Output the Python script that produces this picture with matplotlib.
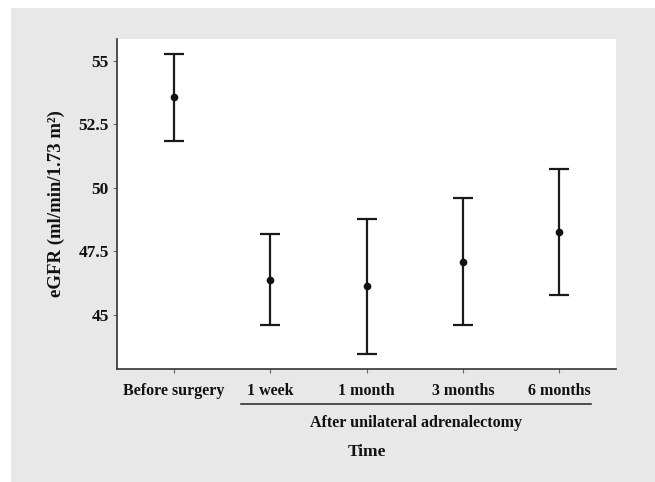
import matplotlib
matplotlib.use("Agg")
import matplotlib.pyplot as plt
from matplotlib.patches import Rectangle
from matplotlib.lines import Line2D

categories = ["Before surgery", "1 week", "1 month", "3 months", "6 months"]
means = [53.57, 46.37, 46.11, 47.09, 48.24]
upper = [55.28, 48.16, 48.75, 49.60, 50.74]
lower = [51.86, 44.57, 43.45, 44.58, 45.76]
yticks = [45, 47.5, 50, 52.5, 55]
ytick_labels = ["45", "47.5", "50", "52.5", "55"]

plt.rcParams['font.family'] = ['Liberation Serif', 'DejaVu Serif']
plt.rcParams['font.weight'] = 'bold'

W, H = 655, 482
fig = plt.figure(figsize=(W/100, H/100), dpi=100)
fig.patch.set_facecolor('white')
bg = Rectangle((11/W, 0), 1 - 11/W, 1 - 8/H, transform=fig.transFigure,
               facecolor='#e8e8e8', edgecolor='none', zorder=-10)
fig.patches.append(bg)

ax = fig.add_axes([117/W, (H-369)/H, (616-117)/W, (369-39)/H])
ax.set_zorder(1)
ax.set_facecolor('white')

x = list(range(len(categories)))
yerr = [[m - l for m, l in zip(means, lower)], [u - m for m, u in zip(means, upper)]]
ax.errorbar(x, means, yerr=yerr, fmt='o', color='#111111', ecolor='#1a1a1a',
            markersize=4.5, elinewidth=1.6, capsize=7, capthick=1.6)

ax.set_xlim(-0.59, 4.59)
ax.set_ylim(42.85, 55.87)
ax.set_yticks(yticks)
ax.set_yticklabels(ytick_labels)
ax.set_xticks(x)
ax.set_xticklabels(categories)
for s in ['top', 'right']:
    ax.spines[s].set_visible(False)
for s in ['left', 'bottom']:
    ax.spines[s].set_color('#333333')
    ax.spines[s].set_linewidth(1.2)
ax.tick_params(axis='both', length=3, width=0.8, color='#666666', labelcolor='#111111')
ax.tick_params(axis='x', pad=7, labelsize=11.5)
ax.tick_params(axis='y', pad=3, labelsize=12.5)
for lbl in ax.get_xticklabels() + ax.get_yticklabels():
    lbl.set_fontweight('bold')

ax.yaxis.set_label_coords((56 - 117) / (616 - 117), 0.49)
ax.set_ylabel("eGFR (ml/min/1.73 m²)", fontsize=13.5, fontweight='bold',
              va='center', color='#111111')

fig.lines.append(Line2D([241/W, 591/W], [(H-403.7)/H]*2, transform=fig.transFigure,
                        color='#333333', lw=1.2, zorder=2))
fig.text(415.5/W, (H-422.7)/H, "After unilateral adrenalectomy", ha='center', va='center',
         fontsize=11.5, fontweight='bold', color='#111111')
fig.text(367/W, (H-451.7)/H, "Time", ha='center', va='center',
         fontsize=12.5, fontweight='bold', color='#111111')

fig.savefig("out.png", dpi=100, facecolor=fig.get_facecolor())
